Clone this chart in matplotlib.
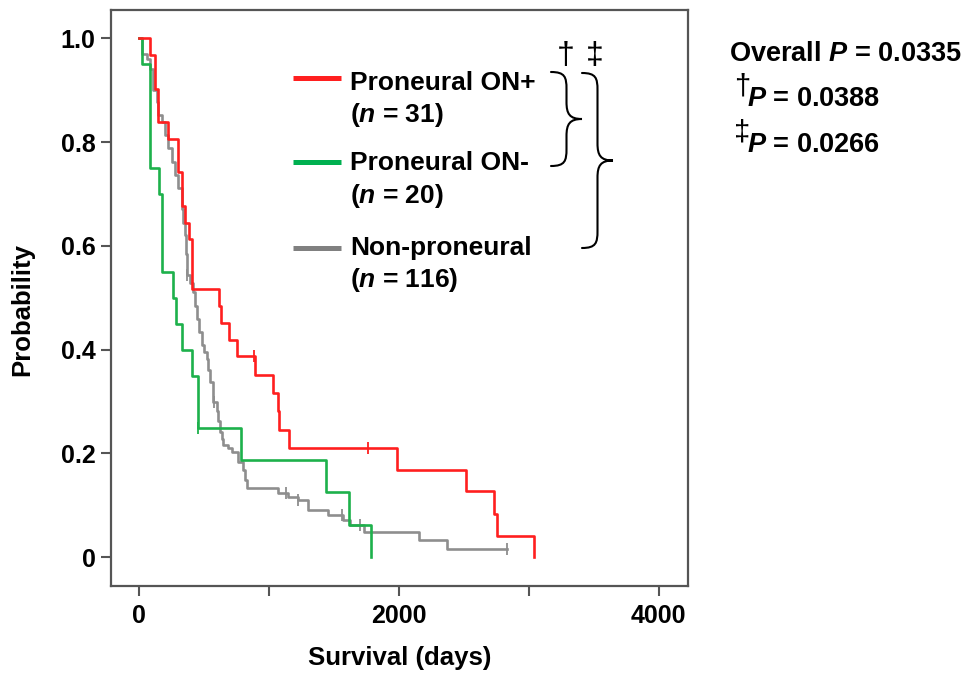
import numpy as np
import matplotlib.pyplot as plt
from matplotlib.path import Path
from matplotlib.patches import PathPatch

plt.rcParams['font.family'] = 'Liberation Sans'
plt.rcParams['font.weight'] = 'bold'
plt.rcParams['mathtext.fontset'] = 'custom'
plt.rcParams['mathtext.it'] = 'Liberation Sans:italic:bold'
plt.rcParams['mathtext.rm'] = 'Liberation Sans:bold'
plt.rcParams['mathtext.bf'] = 'Liberation Sans:bold'

# Kaplan-Meier step points (days, survival probability) and censor times
red_days = [0, 82, 121, 146, 223, 300, 327, 352, 383, 404, 616, 629, 693, 750,
            891, 1028, 1068, 1078, 1153, 1983, 2517, 2735, 2753, 3043]
red_surv = [1.0, 0.968, 0.903, 0.839, 0.806, 0.742, 0.677, 0.645, 0.613, 0.516,
            0.484, 0.452, 0.419, 0.387, 0.352, 0.317, 0.282, 0.246, 0.211, 0.169,
            0.127, 0.084, 0.042, 0.0]
red_cens = [886, 1760]

green_days = [0, 18, 85, 150, 178, 257, 280, 327, 408, 455, 783, 1436, 1618, 1785]
green_surv = [1.0, 0.95, 0.75, 0.70, 0.55, 0.50, 0.45, 0.40, 0.35, 0.25,
              0.1875, 0.125, 0.0625, 0.0]
green_cens = [455]

gray_days = [0, 18, 57, 82, 108, 134, 146, 173, 198, 223, 250, 275, 300, 327,
             340, 352, 358, 365, 390, 416, 430, 442, 460, 481, 500, 519, 532,
             545, 570, 596, 610, 622, 635, 647, 680, 712, 763, 801, 814, 827,
             1071, 1148, 1225, 1302, 1456, 1572, 1623, 1731, 2157, 2368, 2830]
gray_surv = [1.0, 0.97, 0.96, 0.94, 0.90, 0.878, 0.852, 0.839, 0.814, 0.788,
             0.762, 0.737, 0.711, 0.672, 0.645, 0.621, 0.585, 0.544, 0.528,
             0.512, 0.485, 0.460, 0.435, 0.409, 0.396, 0.383, 0.360, 0.338,
             0.300, 0.281, 0.262, 0.242, 0.228, 0.216, 0.210, 0.203, 0.184,
             0.168, 0.149, 0.133, 0.123, 0.117, 0.110, 0.091, 0.0815, 0.072,
             0.062, 0.049, 0.033, 0.016, 0.016]
gray_cens = [365, 575, 1130, 1225, 1559, 1700, 2830]

group_names = ['Proneural ON+', 'Proneural ON-', 'Non-proneural']
group_n = [31, 20, 116]
p_labels = ['Overall', '\u2020', '\u2021']
p_values = [0.0335, 0.0388, 0.0266]

RED = '#ff1f1f'
GREEN = '#1db14b'
GRAY = '#8e8e8e'


def km_curve(ax, days, surv, cens, color):
    ax.step(days, surv, where='post', color=color, lw=1.9)
    idx = np.searchsorted(days, cens, side='right') - 1
    ax.plot(cens, np.asarray(surv)[idx], ls='none', marker='|', ms=8,
            mew=1.3, color=color)


def brace(ax, x0, yt, yb, w, lw=1.5):
    # right-pointing curly brace in pixel coordinates (y grows downward)
    xm = x0 + w / 2
    xt = x0 + w
    ym = (yt + yb) / 2
    r = w * 0.55
    verts = [(x0, yt),
             (x0 + w * 0.45, yt), (xm, yt + r * 0.3), (xm, yt + r),
             (xm, ym - r),
             (xm, ym - r * 0.3), (xm + w * 0.1, ym), (xt, ym),
             (xm + w * 0.1, ym), (xm, ym + r * 0.3), (xm, ym + r),
             (xm, yb - r),
             (xm, yb - r * 0.3), (x0 + w * 0.45, yb), (x0, yb)]
    codes = [Path.MOVETO,
             Path.CURVE4, Path.CURVE4, Path.CURVE4,
             Path.LINETO,
             Path.CURVE4, Path.CURVE4, Path.CURVE4,
             Path.CURVE4, Path.CURVE4, Path.CURVE4,
             Path.LINETO,
             Path.CURVE4, Path.CURVE4, Path.CURVE4]
    ax.add_patch(PathPatch(Path(verts, codes), fill=False, lw=lw,
                           color='black', capstyle='round'))


fig = plt.figure(figsize=(9.74, 6.73), dpi=100)
ax = fig.add_axes([111 / 974, 1 - 586 / 673, 577 / 974, 576 / 673])

km_curve(ax, gray_days, gray_surv, gray_cens, GRAY)
km_curve(ax, green_days, green_surv, green_cens, GREEN)
km_curve(ax, red_days, red_surv, red_cens, RED)

ax.set_xlim(-218, 4227)
ax.set_ylim(-0.0553, 1.0545)
ax.set_xticks([0, 2000, 4000])
ax.set_xticks([1000, 3000], minor=True)
ax.set_yticks([0, 0.2, 0.4, 0.6, 0.8, 1.0])
ax.set_yticklabels(['0', '0.2', '0.4', '0.6', '0.8', '1.0'])
ax.tick_params(which='both', direction='out', length=7.2, width=1.5,
               color='#555555', labelsize=18, pad=4)
ax.tick_params(axis='x', pad=6)
for s in ax.spines.values():
    s.set_color('#555555')
    s.set_linewidth(1.6)

ax.set_xlabel('Survival (days)', fontsize=18.5, fontweight='bold')
ax.set_ylabel('Probability', fontsize=18.5, fontweight='bold')
ax.xaxis.set_label_coords(0.501, -0.105)
ax.yaxis.set_label_coords(-0.133, 0.48)

# overlay in pixel coordinates for the legend, braces and p-values
ov = fig.add_axes([0, 0, 1, 1])
ov.set_xlim(0, 974)
ov.set_ylim(673, 0)
ov.axis('off')
ov.patch.set_alpha(0)

legend_y = [78, 162, 248]
name_base = [90, 170, 255]
n_base = [122, 203, 287]
for color, name, n, ly, nb, cb in zip([RED, '#00b050', '#808080'], group_names,
                                      group_n, legend_y, name_base, n_base):
    ov.plot([293, 341], [ly, ly], color=color, lw=3.6, solid_capstyle='butt')
    ov.text(350, nb, name, fontsize=19, fontweight='bold', va='baseline')
    ov.text(350, cb, '($n$ = %d)' % n, fontsize=19, fontweight='bold',
            va='baseline')

ov.text(566, 64, '\u2020', fontsize=23, fontweight='normal', ha='center',
        va='baseline')
ov.text(595, 64, '\u2021', fontsize=23, fontweight='normal', ha='center',
        va='baseline')
brace(ov, 551, 72, 166, 31)
brace(ov, 582, 73, 248, 31)

ov.text(729, 61, '%s $P$ = %.4f' % (p_labels[0], p_values[0]), fontsize=19.5,
        fontweight='bold', va='baseline')
for lab, pv, base in zip(p_labels[1:], p_values[1:], [106, 152]):
    ov.text(734, base - 12, lab, fontsize=21, fontweight='normal',
            va='baseline')
    ov.text(747, base, '$P$ = %.4f' % pv, fontsize=19.5, fontweight='bold',
            va='baseline')

fig.savefig('out.png', dpi=100)
